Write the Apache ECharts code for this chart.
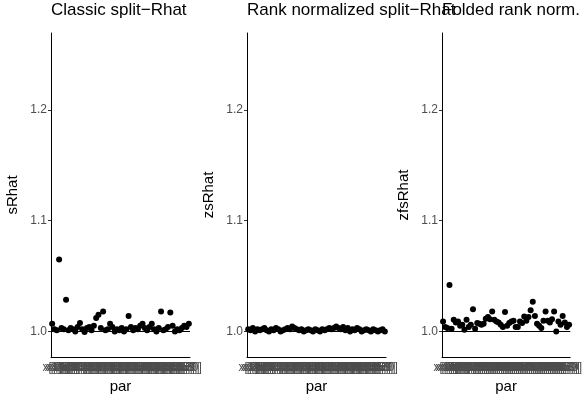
<!DOCTYPE html>
<html>
<head>
<meta charset="utf-8">
<script src="https://cdn.jsdelivr.net/npm/echarts@6/dist/echarts.min.js"></script>
<style>
  html, body { margin: 0; padding: 0; background: #fff; }
  #main { width: 585px; height: 400px; }
</style>
</head>
<body>
<div id="main"></div>
<script>
var myChart = echarts.init(document.getElementById('main'));

// parameter names x[1] .. x[60]
var pars = [];
for (var k = 1; k <= 60; k++) pars.push('x[' + k + ']');

var panelTitles = ['Classic split\u2212Rhat', 'Rank normalized split\u2212Rhat', 'Folded rank norm. Rhat'];
var yNames = ['sRhat', 'zsRhat', 'zfsRhat'];
var yTicks = [1.0, 1.1, 1.2];

var sRhat = [
    1.007, 1.002, 1.001, 1.065, 1.003, 1.002, 1.0285, 1.001, 1.003, 1.002,
    1.000, 1.004, 1.0075, 1.002, 0.9995, 1.003, 1.004, 1.001, 1.005, 1.012,
    1.015, 1.003, 1.018, 1.001, 1.002, 1.007, 1.004, 1.000, 1.002, 1.001,
    1.003, 1.000, 1.002, 1.014, 1.004, 1.001, 1.003, 1.002, 1.005, 1.007,
    1.003, 1.001, 1.004, 1.007, 1.002, 1.000, 1.003, 1.018, 1.001, 1.002,
    1.004, 1.017, 1.005, 1.000, 1.002, 1.001, 1.003, 1.005, 1.004, 1.007
];
var zsRhat = [
    1.002, 1.001, 1.003, 1.000, 1.002, 1.001, 1.002, 1.003, 1.001, 1.000,
    1.002, 1.001, 1.003, 1.002, 1.000, 1.001, 1.002, 1.003, 1.002, 1.0045,
    1.003, 1.002, 1.001, 1.002, 1.000, 1.001, 1.002, 1.001, 1.000, 1.002,
    1.001, 1.000, 1.002, 1.001, 1.002, 1.003, 1.002, 1.003, 1.0045, 1.003,
    1.002, 1.004, 1.001, 1.003, 1.000, 1.002, 1.001, 1.003, 1.002, 1.000,
    1.001, 1.002, 1.001, 1.000, 1.002, 1.001, 1.000, 1.001, 1.002, 1.000
];
var zfsRhat = [
    1.009, 1.004, 1.003, 1.042, 1.0024, 1.0105, 1.008, 1.009, 1.005, 1.006,
    1.0015, 1.0105, 1.004, 1.006, 1.020, 1.0024, 1.0075, 1.007, 1.006, 1.007,
    1.0114, 1.013, 1.011, 1.018, 1.0105, 1.009, 1.008, 1.006, 1.004, 1.0175,
    1.005, 1.0075, 1.009, 1.0096, 1.004, 1.004, 1.009, 1.0075, 1.0135, 1.0096,
    1.013, 1.019, 1.0268, 1.014, 1.007, 1.005, 1.003, 1.0096, 1.018, 1.0096,
    1.008, 1.011, 1.018, 1.000, 1.009, 1.006, 1.014, 1.008, 1.004, 1.006
];
var panelData = [sRhat, zsRhat, zfsRhat];

var lefts = [51, 247, 442];
var font = '"Liberation Sans", Arial, sans-serif';

var titles = [], grids = [], xAxes = [], yAxes = [], series = [];
for (var p = 0; p < 3; p++) {
    titles.push({
        text: panelTitles[p],
        left: lefts[p],
        top: 2,
        padding: 0,
        textStyle: { fontFamily: font, fontSize: 17, fontWeight: 'normal', color: '#000' }
    });
    grids.push({ left: lefts[p], top: 33, width: 139, height: 324 });
    xAxes.push({
        type: 'category',
        gridIndex: p,
        data: pars,
        name: 'par',
        nameLocation: 'middle',
        nameGap: 22,
        nameTextStyle: { fontFamily: font, fontSize: 15, color: '#000' },
        axisLine: { lineStyle: { color: '#000', width: 1 } },
        axisTick: { alignWithLabel: true, length: 3, lineStyle: { color: '#333' }, interval: 0 },
        axisLabel: { interval: 0, fontFamily: font, fontSize: 12, color: '#4d4d4d', margin: 5 },
        splitLine: { show: false }
    });
    yAxes.push({
        type: 'value',
        gridIndex: p,
        min: 0.9769,
        max: 1.2694,
        name: yNames[p],
        nameLocation: 'middle',
        nameGap: 31,
        nameTextStyle: { fontFamily: font, fontSize: 15, color: '#000' },
        axisLine: { show: true, lineStyle: { color: '#000', width: 1 } },
        axisTick: { show: true, length: 3, lineStyle: { color: '#333' }, customValues: yTicks },
        axisLabel: {
            fontFamily: font, fontSize: 12, color: '#4d4d4d', margin: 4,
            customValues: yTicks,
            formatter: function (v) { return v.toFixed(1); }
        },
        splitLine: { show: false }
    });
    series.push({
        type: 'scatter',
        xAxisIndex: p,
        yAxisIndex: p,
        data: panelData[p],
        symbolSize: 6,
        itemStyle: { color: '#000', opacity: 1 },
        silent: true,
        markLine: {
            silent: true,
            symbol: 'none',
            label: { show: false },
            data: [
                { yAxis: 1.0, lineStyle: { color: '#000', width: 1, type: 'solid' } },
                { yAxis: 1.005, lineStyle: { color: '#000', width: 1, type: [4, 4] } }
            ]
        }
    });
}

var option = {
    backgroundColor: '#fff',
    animation: false,
    title: titles,
    grid: grids,
    xAxis: xAxes,
    yAxis: yAxes,
    series: series
};
myChart.setOption(option);
</script>
</body>
</html>
